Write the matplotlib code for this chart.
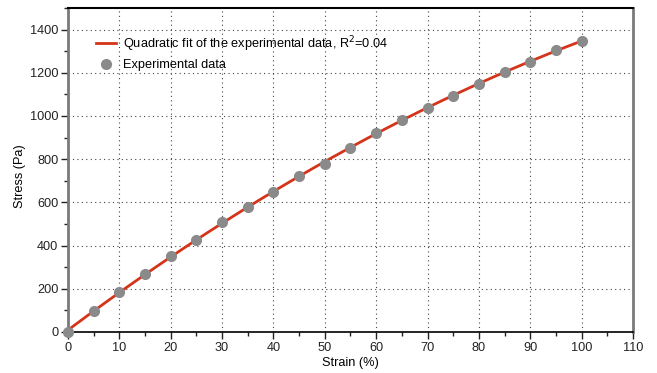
import numpy as np
import matplotlib
matplotlib.use("Agg")
import matplotlib.pyplot as plt
from matplotlib.ticker import MultipleLocator

plt.rcParams['font.family'] = ['Liberation Sans', 'DejaVu Sans']

strain = [0, 5, 10, 15, 20, 25, 30, 35, 40, 45, 50, 55, 60, 65, 70, 75, 80, 85, 90, 95, 100]
stress = [0, 99, 184, 269, 354, 425, 508, 581, 650, 723, 779, 852, 921, 980, 1037, 1093, 1150, 1205, 1250, 1306, 1348]
fit_label = "Quadratic fit of the experimental data, R$^2$=0.04"
data_label = "Experimental data"

x = np.array(strain, dtype=float)
y = np.array(stress, dtype=float)
coef = np.polyfit(x, y, 2)
xf = np.linspace(x.min(), x.max(), 200)
yf = np.polyval(coef, xf)

W, H = 657, 373
L, R, T, B = 68, 633, 8, 332
fig = plt.figure(figsize=(W / 100, H / 100), dpi=100)
ax = fig.add_axes([L / W, 1 - B / H, (R - L) / W, (B - T) / H])

ax.plot(xf, yf, color='#d5341b', lw=2, label=fit_label, zorder=3)
ax.plot(x, y, 'o', color='#8a8a8a', ms=7, label=data_label, zorder=6, clip_on=False)

ax.set_xlim(0, 110)
ax.set_ylim(0, 1500)
ax.xaxis.set_major_locator(MultipleLocator(10))
ax.xaxis.set_minor_locator(MultipleLocator(5))
ax.yaxis.set_major_locator(MultipleLocator(200))
ax.yaxis.set_minor_locator(MultipleLocator(100))

ax.grid(True, which='major', linestyle=(0, (1, 3)), color='#444444', lw=0.8)
ax.tick_params(which='major', direction='out', length=5, width=1, labelsize=9.2,
               colors='#222222', pad=2)
ax.tick_params(which='minor', direction='out', length=3, width=1, colors='#222222')

for side in ('left', 'right'):
    ax.spines[side].set_color('#7a7a7a')
    ax.spines[side].set_linewidth(2)
ax.spines['top'].set_color('black')
ax.spines['top'].set_linewidth(1.5)
ax.spines['bottom'].set_color('black')
ax.spines['bottom'].set_linewidth(1.2)
for sp in ax.spines.values():
    sp.set_zorder(5)

ax.set_xlabel("Strain (%)", fontsize=9.2)
ax.set_ylabel("Stress (Pa)", fontsize=9.2)
ax.xaxis.set_label_coords((350 - L) / (R - L), -(357 - B) / (B - T))
ax.yaxis.set_label_coords(-(L - 26) / (R - L), 0.48)

ax.legend(loc='upper left', bbox_to_anchor=((96 - L) / (R - L), 1 - (34 - T) / (B - T)),
          frameon=False, fontsize=9.2, handlelength=1.6, handletextpad=0.5,
          labelspacing=0.45, borderaxespad=0, borderpad=0)

fig.savefig("out.png", dpi=100)
